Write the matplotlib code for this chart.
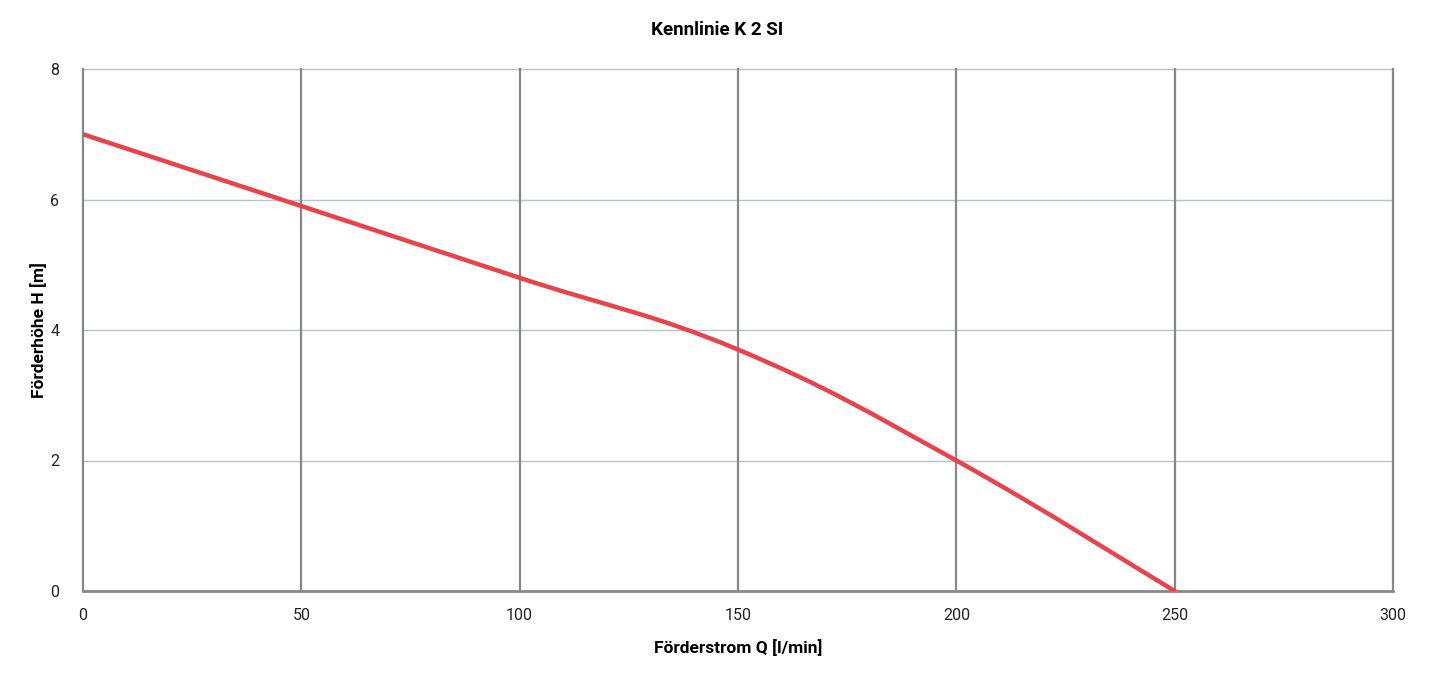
import matplotlib.pyplot as plt
from matplotlib.path import Path
from matplotlib.patches import PathPatch

plt.rcParams['font.family'] = ['Roboto', 'DejaVu Sans']

# data
flow = [0, 50, 100, 150, 200, 250]
head = [7.0, 5.9, 4.8, 3.7, 2.0, 0.0]
x_ticks = [0, 50, 100, 150, 200, 250, 300]
y_ticks = [0, 2, 4, 6, 8]

title = "Kennlinie K 2 SI"
x_label = "Förderstrom Q [l/min]"
y_label = "Förderhöhe H [m]"


def smooth_path(xs, ys, tension=0.5):
    # catmull-rom style bezier through the points
    verts = [(xs[0], ys[0])]
    codes = [Path.MOVETO]
    n = len(xs)
    for i in range(n - 1):
        x0, y0 = (xs[i - 1], ys[i - 1]) if i > 0 else (xs[i], ys[i])
        x1, y1 = xs[i], ys[i]
        x2, y2 = xs[i + 1], ys[i + 1]
        x3, y3 = (xs[i + 2], ys[i + 2]) if i + 2 < n else (x2, y2)
        c1 = (x1 + (x2 - x0) * tension / 3, y1 + (y2 - y0) * tension / 3)
        c2 = (x2 - (x3 - x1) * tension / 3, y2 - (y3 - y1) * tension / 3)
        verts += [c1, c2, (x2, y2)]
        codes += [Path.CURVE4] * 3
    return Path(verts, codes)


fig = plt.figure(figsize=(14.3, 6.84), dpi=100)
ax = fig.add_axes([83 / 1430, 1 - 591 / 684, 1310 / 1430, 522 / 684])

for x in x_ticks:
    ax.axvline(x, color='#888888', lw=1.6, zorder=1, clip_on=False)
for y in y_ticks[1:]:
    ax.axhline(y, color='#b9c1c9', lw=1.0, zorder=0, clip_on=False)
ax.axhline(0, color='#888888', lw=2.0, zorder=2, clip_on=False)

ax.add_patch(PathPatch(smooth_path(flow, head, tension=0.6), fill=False,
                       edgecolor='#e8434a', lw=3.2, capstyle='round', zorder=3))

ax.set_xlim(0, 300)
ax.set_ylim(0, 8)
ax.set_xticks(x_ticks)
ax.set_yticks(y_ticks)
ax.tick_params(length=0, labelsize=11.5, colors='#222222', pad=12)
ax.tick_params(axis='y', pad=17)
for s in ax.spines.values():
    s.set_visible(False)

ax.set_xlabel(x_label, fontsize=12.5, fontweight='bold', labelpad=12)
ax.set_ylabel(y_label, fontsize=12.5, fontweight='bold', labelpad=2)
fig.text(717 / 1430, 1 - 30 / 684, title, fontsize=13.5, fontweight='bold',
         ha='center', va='center')

fig.savefig('out.png', dpi=100)
